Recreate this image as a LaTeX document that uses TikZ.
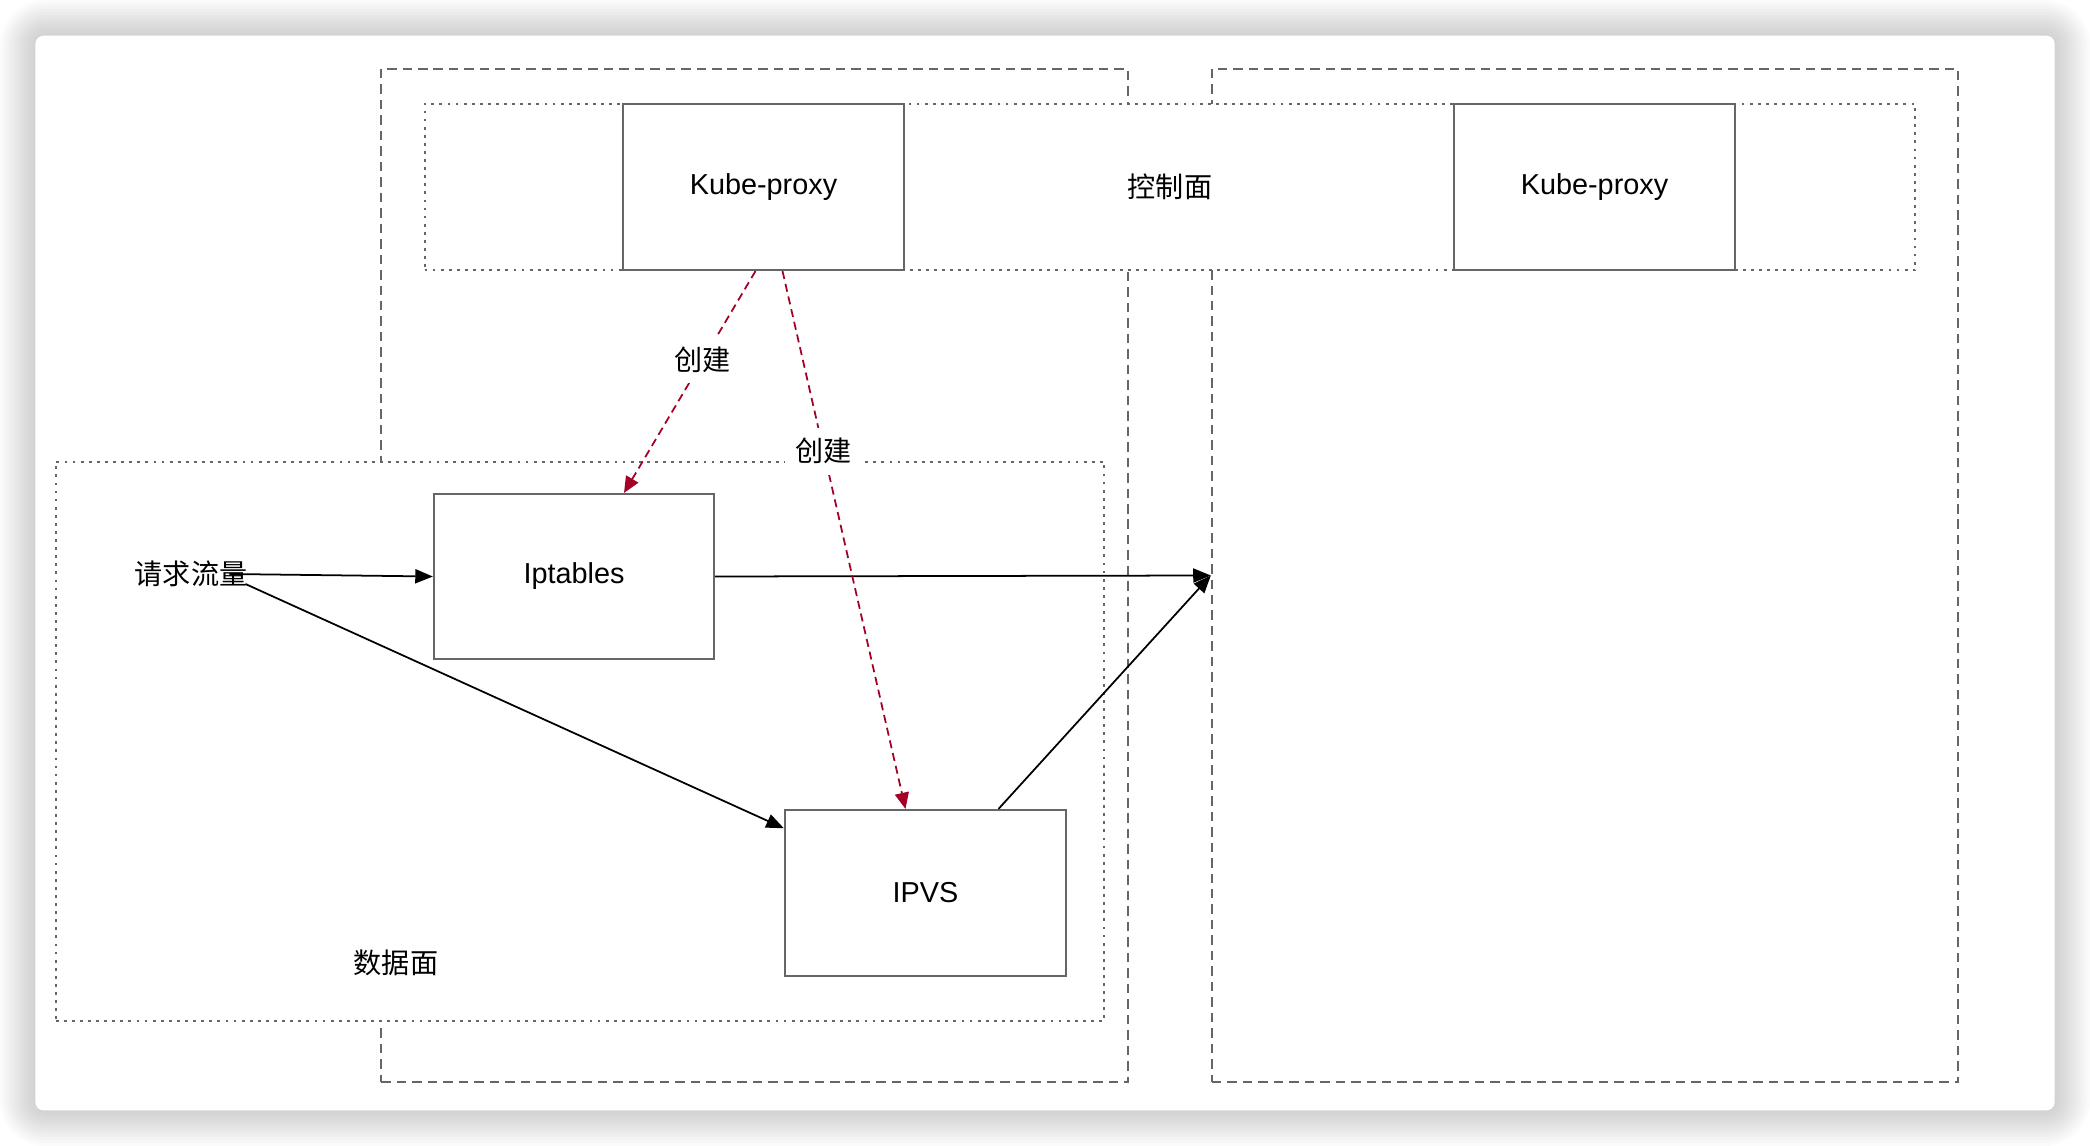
\documentclass[tikz,border=0pt]{standalone}
\usepackage{fontspec}
\setmainfont{Liberation Sans}
\newfontfamily\cjk{Noto Sans CJK SC}
\usepackage{xcolor}
\usepackage{tikz}
\usetikzlibrary{arrows.meta,positioning,calc}

\definecolor{boxgray}{HTML}{666666}
\definecolor{createred}{HTML}{A20025}

\begin{document}
\begin{tikzpicture}[
    x=0.01cm, y=-0.01cm,
    font=\fontsize{8.2pt}{10pt}\selectfont,
    card/.style={rectangle, fill=white, rounded corners=0.08cm, minimum width=20.18cm, minimum height=10.74cm},
    hostbox/.style={rectangle, draw=boxgray, line width=0.55pt, dash pattern=on 2.7pt off 1.7pt, minimum width=7.46cm, minimum height=10.13cm},
    plane/.style={rectangle, draw=boxgray, fill=white, line width=0.55pt, dash pattern=on 0.8pt off 1.5pt},
    comp/.style={rectangle, draw=boxgray, fill=white, line width=0.6pt, minimum width=2.81cm, minimum height=1.66cm},
    cjklabel/.style={font=\cjk\fontsize{8pt}{10pt}\selectfont, inner sep=1pt, text=black},
    flow/.style={-{Triangle[length=5pt, width=4pt]}, line width=0.5pt, black},
    create/.style={-{Triangle[length=4.6pt, width=4pt]}, line width=0.5pt, createred, dash pattern=on 2.3pt off 1.4pt}
]
    \useasboundingbox (0,0) rectangle (2090,1146);

    % Background card with soft shadow
    \foreach \s in {1,...,12}
        \fill[black, opacity=0.016, rounded corners=0.1cm+\s*0.03cm]
            (36-\s*3,36-\s*3) rectangle (2054+\s*3,1110+\s*3);
    \node[card] (card) at (1045,573) {};

    % Host boxes
    \node[hostbox] (hostL) at (754.5,575.5) {};
    \node[hostbox] (hostR) at (1585,575.5) {};

    % Control plane
    \node[plane, minimum width=14.9cm, minimum height=1.66cm, font=\cjk\fontsize{8pt}{10pt}\selectfont] (control) at (1170,187) {控制面};
    \node[comp] (kp1) at (763.5,187) {Kube-proxy};
    \node[comp] (kp2) at (1594.5,187) {Kube-proxy};

    % Data plane
    \node[plane, minimum width=10.48cm, minimum height=5.59cm] (dataplane) at (580,741.5) {};
    \node[cjklabel] (datalabel) at (396,963) {数据面};
    \node[comp, minimum width=2.8cm, minimum height=1.65cm] (ipt) at (574,576.5) {Iptables};
    \node[comp] (ipvs) at (925.5,893) {IPVS};
    \node[cjklabel] (req) at (191,574) {请求流量};

    % Request flow
    \draw[flow] ([xshift=-0.22cm]req.east) -- (ipt.west);
    \draw[flow] ([xshift=-0.06cm, yshift=-0.1cm]req.east) -- ($(ipvs.north west)!0.115!(ipvs.south west)$);
    \draw[flow] (ipt.east) -- (hostR.west);
    \draw[flow] ([xshift=0.73cm]ipvs.north) -- (hostR.west);

    % Kube-proxy creates rules
    \draw[create] ([xshift=-0.08cm]kp1.south) -- node[pos=0.4, cjklabel, fill=white, inner sep=3pt] {创建} ([xshift=0.5cm]ipt.north);
    \draw[create] ([xshift=0.19cm]kp1.south) -- node[pos=0.335, cjklabel, fill=white, inner sep=3pt] {创建} ([xshift=-0.2cm]ipvs.north);
\end{tikzpicture}
\end{document}
